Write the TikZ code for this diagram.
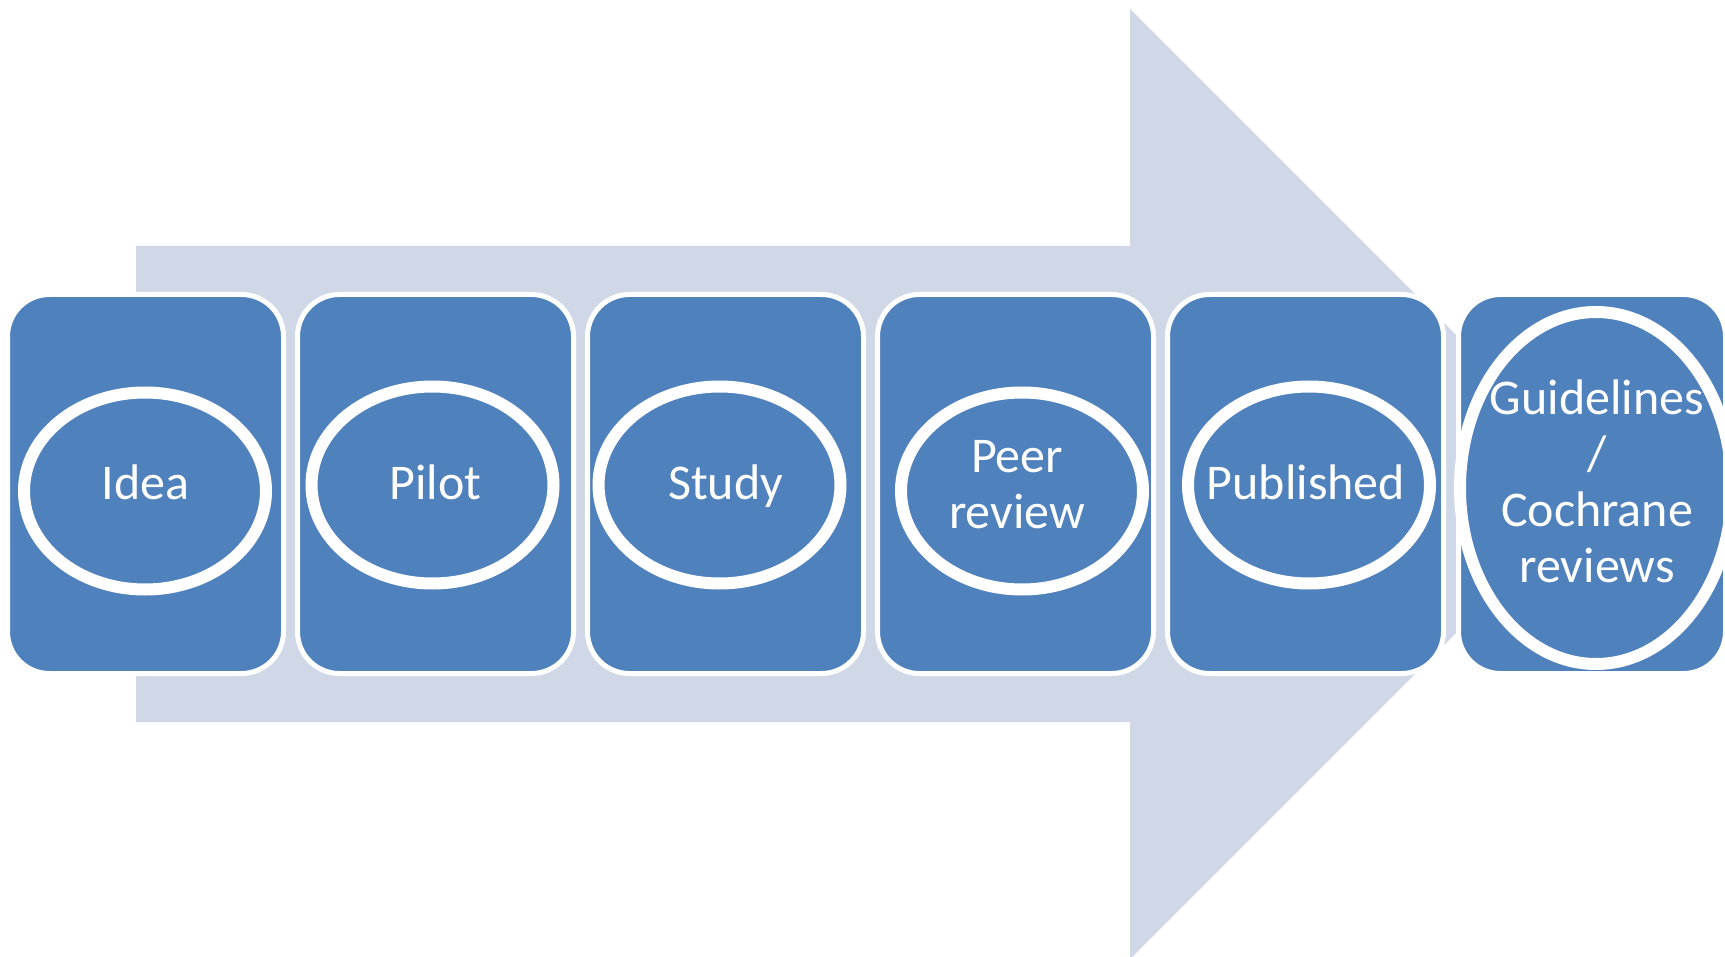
\documentclass[tikz,border=0pt]{standalone}
\usepackage{fontspec}
\setmainfont{Carlito}
\usetikzlibrary{shapes.geometric}
\definecolor{arrowfill}{HTML}{D0D8E8}
\definecolor{stagefill}{HTML}{4F81BD}
\begin{document}
\begin{tikzpicture}[x=0.5pt,y=-0.5pt,
  stagebox/.style={rectangle, rounded corners=21pt, fill=stagefill, draw=white,
    line width=2.5pt, inner sep=0pt, minimum width=138pt, minimum height=189.5pt},
  ring/.style={ellipse, draw=white, line width=6pt, inner sep=0pt,
    minimum width=121pt, minimum height=98.5pt},
  stagetext/.style={text=white, inner sep=0pt, align=center,
    font=\fontsize{25}{28}\selectfont}]
\useasboundingbox (0,0) rectangle (1725,957);
\clip (0,0) rectangle (1725,957);

% background block arrow
\fill[arrowfill] (136,246) -- (1130,246) -- (1130,9) -- (1605,484)
  -- (1130,959) -- (1130,722) -- (136,722) -- cycle;

% stage boxes
\node[stagebox] (b1) at (145.5,484) {};
\node[stagebox] (b2) at (435.5,484) {};
\node[stagebox] (b3) at (725.5,484) {};
\node[stagebox] (b4) at (1015.5,484) {};
\node[stagebox] (b5) at (1305.5,484) {};
\node[stagebox, minimum width=133.5pt] (b6) at (1592,484) {};

% white rings
\node[ring] (e1) at (145,491) {};
\node[ring] (e2) at (432.5,485) {};
\node[ring] (e3) at (719.5,485) {};
\node[ring] (e4) at (1022,491) {};
\node[ring] (e5) at (1309,485) {};
\node[ring, minimum width=136pt, minimum height=176pt] (e6) at (1596,488) {};

% stage labels
\node[stagetext, anchor=base] (t1) at (145.5,499) {Idea};
\node[stagetext, anchor=base] (t2) at (435.5,499) {Pilot};
\node[stagetext, anchor=base] (t3) at (725.5,499) {Study};
\node[stagetext] (t4) at (1017,484.5) {Peer\\review};
\node[stagetext, anchor=base] (t5) at (1306,499) {Published};
\node[stagetext] (t6) at (1597,481) {Guidelines\\/\\Cochrane\\reviews};
\end{tikzpicture}
\end{document}
